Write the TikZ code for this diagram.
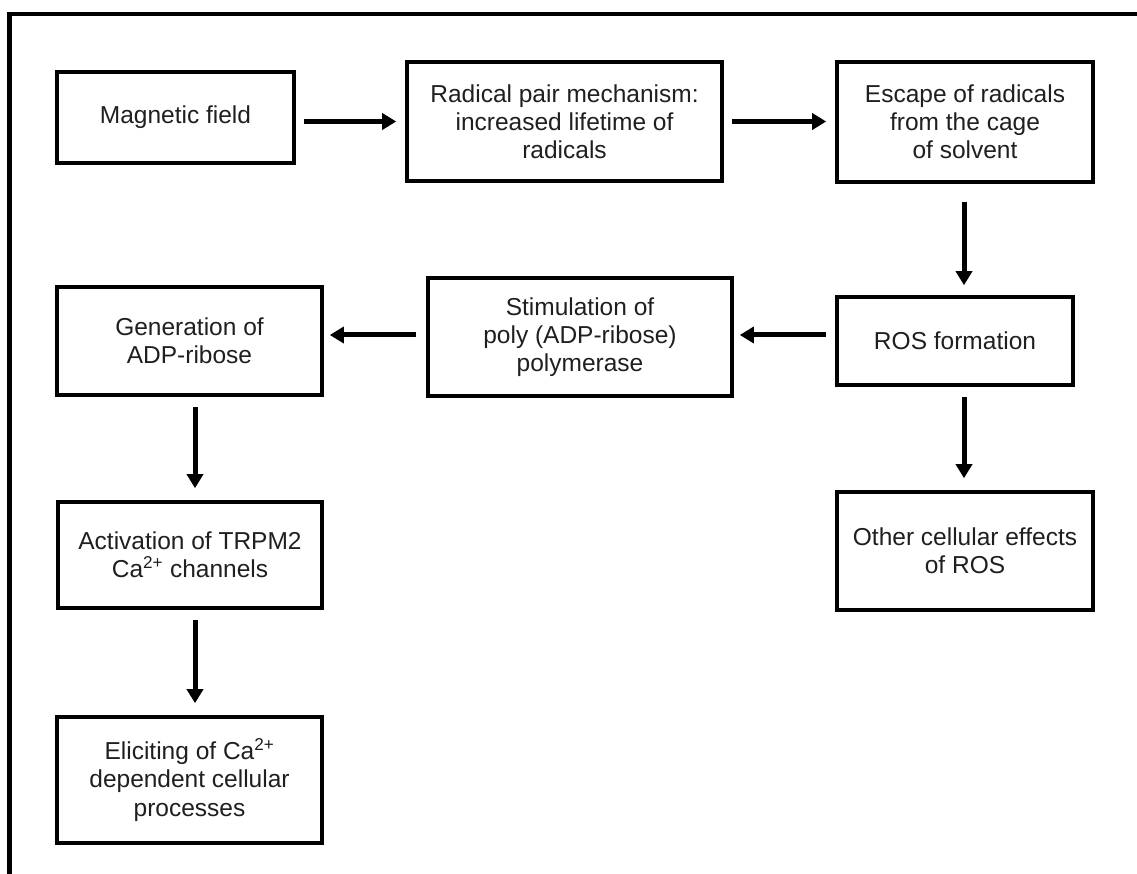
\documentclass[tikz,border=0pt]{standalone}
\usepackage{fontspec}
\setmainfont{Liberation Sans}
\usetikzlibrary{arrows.meta}
\begin{document}
\begin{tikzpicture}[x=1pt,y=-1pt,
  box/.style={draw=black,line width=3.6pt,rectangle,align=center,inner sep=0pt,
    font=\fontsize{24.5}{28.2}\selectfont,text=black!88},
  arr/.style={line width=5pt,-{Triangle[length=14pt,width=16pt]}}]
\useasboundingbox (0,0) rectangle (1137,874);
\draw[line width=4.8pt,line join=miter] (9.7,874) -- (9.7,14) -- (1137,14);
\node[box,minimum width=237pt,minimum height=91pt] (mf) at (175.5,117.5) {Magnetic field};
\node[box,minimum width=315pt,minimum height=119pt] (rp) at (564.5,121.5) {Radical pair mechanism:\\increased lifetime of\\radicals};
\node[box,minimum width=256pt,minimum height=120pt] (es) at (965,122) {Escape of radicals\\from the cage\\of solvent};
\node[box,minimum width=236pt,minimum height=88pt] (ros) at (955,341) {ROS formation};
\node[box,minimum width=256pt,minimum height=118pt] (oth) at (965,551) {Other cellular effects\\of ROS};
\node[box,minimum width=304pt,minimum height=118pt] (stim) at (580,337) {Stimulation of\\poly (ADP-ribose)\\polymerase};
\node[box,minimum width=265pt,minimum height=108pt] (gen) at (189.5,341) {Generation of\\ADP-ribose};
\node[box,minimum width=264pt,minimum height=106pt] (act) at (190,555) {Activation of TRPM2\\Ca\textsuperscript{2+} channels};
\node[box,minimum width=265pt,minimum height=126pt] (eli) at (189.5,780) {Eliciting of Ca\textsuperscript{2+}\\dependent cellular\\processes};
\draw[arr,shorten <=8pt,shorten >=9pt] (mf.east |- rp.center) -- (rp.west);
\draw[arr,shorten <=8pt,shorten >=9pt] (rp.east) -- (rp.east -| es.west);
\draw[arr,shorten <=18pt,shorten >=10pt] ([xshift=-1pt]es.south) -- ([xshift=-1pt]es.south |- ros.north);
\draw[arr,shorten <=10pt,shorten >=12pt] ([xshift=-1pt]es.south |- ros.south) -- ([xshift=-1pt]oth.north);
\draw[arr,shorten <=9pt,shorten >=6pt] ([yshift=6pt]ros.west) -- ([yshift=6pt]ros.west -| stim.east);
\draw[arr,shorten <=10pt,shorten >=6pt] ([yshift=6pt]ros.west -| stim.west) -- ([yshift=6pt]gen.east);
\draw[arr,shorten <=10pt,shorten >=12pt] ([xshift=5.5pt]gen.south) -- ([xshift=5pt]act.north);
\draw[arr,shorten <=10pt,shorten >=12pt] ([xshift=5pt]act.south) -- ([xshift=5.5pt]eli.north);
\end{tikzpicture}
\end{document}
